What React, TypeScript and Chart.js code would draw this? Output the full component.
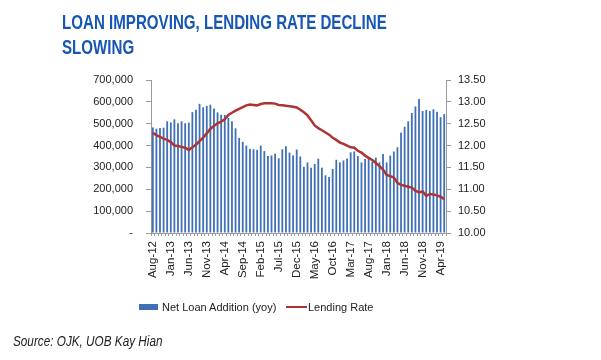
import React, { useEffect, useRef } from "react";
import { Chart, registerables } from "chart.js";

Chart.register(...registerables);

const categories: string[] = [
  "Aug-12", "Sep-12", "Oct-12", "Nov-12", "Dec-12",
  "Jan-13", "Feb-13", "Mar-13", "Apr-13", "May-13", "Jun-13", "Jul-13", "Aug-13", "Sep-13", "Oct-13", "Nov-13", "Dec-13",
  "Jan-14", "Feb-14", "Mar-14", "Apr-14", "May-14", "Jun-14", "Jul-14", "Aug-14", "Sep-14", "Oct-14", "Nov-14", "Dec-14",
  "Jan-15", "Feb-15", "Mar-15", "Apr-15", "May-15", "Jun-15", "Jul-15", "Aug-15", "Sep-15", "Oct-15", "Nov-15", "Dec-15",
  "Jan-16", "Feb-16", "Mar-16", "Apr-16", "May-16", "Jun-16", "Jul-16", "Aug-16", "Sep-16", "Oct-16", "Nov-16", "Dec-16",
  "Jan-17", "Feb-17", "Mar-17", "Apr-17", "May-17", "Jun-17", "Jul-17", "Aug-17", "Sep-17", "Oct-17", "Nov-17", "Dec-17",
  "Jan-18", "Feb-18", "Mar-18", "Apr-18", "May-18", "Jun-18", "Jul-18", "Aug-18", "Sep-18", "Oct-18", "Nov-18", "Dec-18",
  "Jan-19", "Feb-19", "Mar-19", "Apr-19", "May-19",
];

// Net loan addition (yoy), IDR bn
const netLoanAddition: number[] = [
  483000, 477000, 480000, 482000, 511000, 506000, 520000, 502000, 511000, 502000,
  505000, 553000, 564000, 591000, 575000, 582000, 587000, 570000, 552000, 541000,
  540000, 526000, 511000, 479000, 435000, 417000, 400000, 384000, 383000, 380000,
  400000, 375000, 352000, 355000, 363000, 342000, 383000, 397000, 368000, 355000,
  382000, 350000, 303000, 323000, 299000, 316000, 340000, 299000, 264000, 256000,
  293000, 335000, 323000, 332000, 341000, 369000, 373000, 352000, 323000, 338000,
  346000, 325000, 345000, 323000, 361000, 323000, 354000, 373000, 392000, 459000,
  486000, 511000, 549000, 579000, 613000, 558000, 563000, 558000, 566000, 555000,
  530000, 544000,
];

// Lending rate, %
const lendingRate: number[] = [
  12.29, 12.24, 12.2, 12.16, 12.13, 12.08, 12.0, 11.99, 11.97, 11.95,
  11.9, 11.96, 12.02, 12.1, 12.18, 12.28, 12.38, 12.45, 12.51, 12.55,
  12.6, 12.7, 12.75, 12.8, 12.84, 12.88, 12.92, 12.94, 12.93, 12.92,
  12.95, 12.97, 12.97, 12.97, 12.96, 12.93, 12.92, 12.91, 12.9, 12.89,
  12.87, 12.82, 12.76, 12.69, 12.58, 12.46, 12.4, 12.35, 12.3, 12.25,
  12.18, 12.13, 12.07, 12.04, 12.0, 11.96, 11.95, 11.88, 11.84, 11.77,
  11.72, 11.67, 11.6, 11.53, 11.45, 11.33, 11.3, 11.27, 11.15, 11.1,
  11.08, 11.06, 11.04, 10.97, 10.93, 10.95, 10.85, 10.89, 10.88, 10.86,
  10.83, 10.77,
];

const BAR_COLOR = "#3f70b6";
const LINE_COLOR = "#ad3434";
const AXIS_COLOR = "#9a9a9a";
const TEXT_COLOR = "#222";
const FONT = "'Liberation Sans', Arial, sans-serif";

export default function App() {
  const ref = useRef<HTMLCanvasElement | null>(null);

  useEffect(() => {
    if (!ref.current) return;
    const chart = new Chart(ref.current, {
      type: "bar",
      data: {
        labels: categories,
        datasets: [
          {
            type: "line",
            label: "Lending Rate",
            data: lendingRate,
            yAxisID: "y1",
            borderColor: LINE_COLOR,
            backgroundColor: LINE_COLOR,
            borderWidth: 2.5,
            pointRadius: 0,
            tension: 0,
            order: 0,
          },
          {
            type: "bar",
            label: "Net Loan Addition (yoy)",
            data: netLoanAddition,
            yAxisID: "y",
            backgroundColor: BAR_COLOR,
            barPercentage: 0.5,
            categoryPercentage: 1,
            order: 1,
          },
        ],
      },
      options: {
        responsive: false,
        animation: false,
        devicePixelRatio: 1,
        layout: { padding: { top: 80, left: 0, right: 0, bottom: 0 } },
        plugins: {
          legend: { display: false },
          tooltip: { enabled: false },
          title: { display: false },
        },
        scales: {
          x: {
            type: "category",
            offset: true,
            grid: {
              display: true,
              drawOnChartArea: false,
              drawTicks: true,
              tickLength: 3,
              color: AXIS_COLOR,
              offset: true,
            },
            border: { display: true, color: AXIS_COLOR },
            ticks: {
              autoSkip: false,
              maxRotation: 90,
              minRotation: 90,
              padding: 5,
              color: TEXT_COLOR,
              font: { family: FONT, size: 11.5 },
              callback: (_v: any, i: number) => (i % 5 === 0 ? categories[i] : ""),
            },
            afterFit: (scale: any) => {
              scale.height = 127;
            },
          },
          y: {
            type: "linear",
            position: "left",
            min: 0,
            max: 700000,
            grid: {
              drawOnChartArea: false,
              drawTicks: true,
              tickLength: 5,
              color: AXIS_COLOR,
            },
            border: { display: true, color: AXIS_COLOR },
            ticks: {
              stepSize: 100000,
              padding: 13,
              color: TEXT_COLOR,
              font: { family: FONT, size: 11 },
              callback: (v: any) => (Number(v) === 0 ? "-" : Number(v).toLocaleString("en-US")),
            },
            afterFit: (scale: any) => {
              scale.width = 151;
            },
          },
          y1: {
            type: "linear",
            position: "right",
            min: 10,
            max: 13.5,
            grid: {
              drawOnChartArea: false,
              drawTicks: true,
              tickLength: 5,
              color: AXIS_COLOR,
            },
            border: { display: true, color: AXIS_COLOR },
            ticks: {
              stepSize: 0.5,
              padding: 7,
              color: TEXT_COLOR,
              font: { family: FONT, size: 11 },
              callback: (v: any) => Number(v).toFixed(2),
            },
            afterFit: (scale: any) => {
              scale.width = 155;
            },
          },
        },
      },
    });
    return () => chart.destroy();
  }, []);

  return (
    <div style={{ position: "absolute", left: 0, top: 0, width: 601, height: 360, background: "#fff", overflow: "hidden" }}>
      <canvas ref={ref} width={601} height={360} style={{ position: "absolute", left: 0, top: 0, width: 601, height: 360 }} />
      <div
        style={{
          position: "absolute",
          left: 62,
          top: 9,
          fontFamily: FONT,
          fontWeight: "bold",
          fontSize: 21,
          lineHeight: "25px",
          color: "#1657b4",
          whiteSpace: "nowrap",
          transform: "scaleX(0.72)",
          transformOrigin: "0 0",
        }}
      >
        LOAN IMPROVING, LENDING RATE DECLINE
        <br />
        SLOWING
      </div>
      <div
        style={{
          position: "absolute",
          left: 0,
          top: 300,
          width: 601,
          height: 14,
          fontFamily: FONT,
          fontSize: 11,
          color: TEXT_COLOR,
        }}
      >
        <div style={{ position: "absolute", left: 139, top: 4, width: 19, height: 6, background: BAR_COLOR }} />
        <div style={{ position: "absolute", left: 162, top: 0, whiteSpace: "nowrap", lineHeight: "14px" }}>Net Loan Addition (yoy)</div>
        <div style={{ position: "absolute", left: 286, top: 6, width: 21, height: 2, background: LINE_COLOR }} />
        <div style={{ position: "absolute", left: 308, top: 0, whiteSpace: "nowrap", lineHeight: "14px" }}>Lending Rate</div>
      </div>
      <div
        style={{
          position: "absolute",
          left: 13,
          top: 332,
          fontFamily: FONT,
          fontStyle: "italic",
          fontSize: 14.5,
          lineHeight: "18px",
          color: TEXT_COLOR,
          whiteSpace: "nowrap",
          transform: "scaleX(0.81)",
          transformOrigin: "0 0",
        }}
      >
        Source: OJK, UOB Kay Hian
      </div>
    </div>
  );
}
